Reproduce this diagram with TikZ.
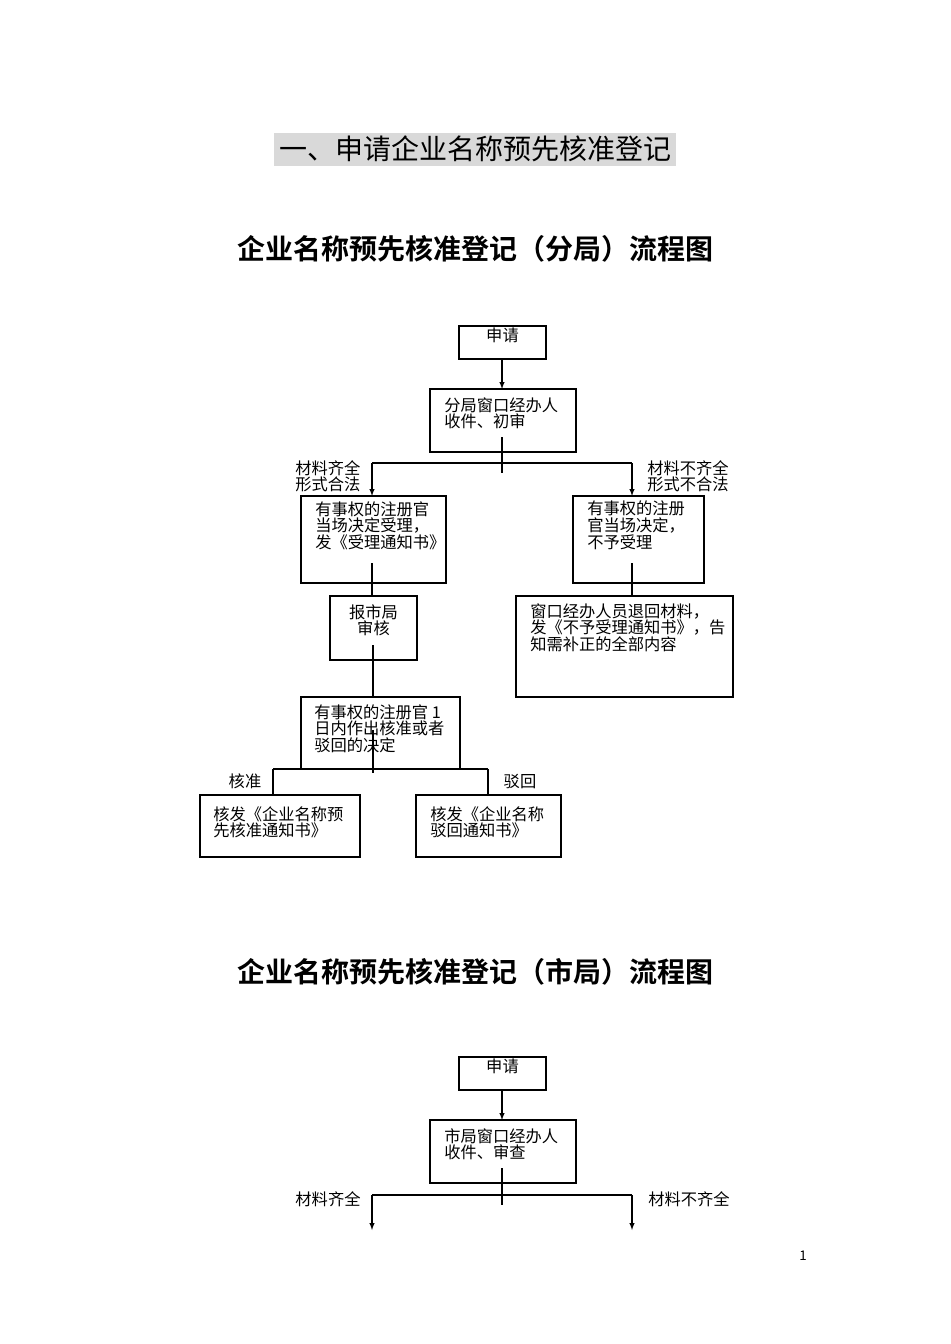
\documentclass[tikz,border=0pt]{standalone}
\usepackage{fontspec}
\setmainfont{Noto Sans CJK SC}
\newfontfamily\cjkb{Noto Sans CJK SC Bold}
\begin{document}
\begin{tikzpicture}[x=0.75pt,y=-0.75pt,
  bx/.style={draw,line width=0.8pt},
  ln/.style={line width=0.8pt},
  ar/.style={line width=0.8pt,-latex},
  tx/.style={anchor=north west,inner sep=0,align=left,font=\fontsize{12.2}{12.4}\selectfont},
  tc/.style={anchor=north,inner sep=0,align=center,font=\fontsize{12.2}{12.4}\selectfont},
  ttl/.style={inner sep=0,font=\fontsize{21}{24}\selectfont}]
\useasboundingbox (0,0) rectangle (950,1344);
\fill[white] (0,0) rectangle (950,1344);
% titles
\fill[black!15] (274,133) rectangle (676,166);
\node[ttl] (t1) at (475,149) {一、申请企业名称预先核准登记};
\node[ttl,font=\cjkb\fontsize{21}{24}\selectfont] (t2) at (475,249) {企业名称预先核准登记（分局）流程图};
\node[ttl,font=\cjkb\fontsize{21}{24}\selectfont] (t3) at (475,972) {企业名称预先核准登记（市局）流程图};
\node[inner sep=0,font=\fontsize{10}{12}\selectfont] (pg) at (803,1256) {1};
% chart 1
\draw[bx] (459,326) rectangle (546,359);
\node[tc] (a1) at (502.5,328) {申请};
\draw[bx] (430,389) rectangle (576,452);
\node[tx] (a2) at (444,397) {分局窗口经办人\\收件、初审};
\draw[ar] (502,359) -- (502,389);
\draw[ln] (502,437) -- (502,473);
\draw[ln] (372,463) -- (632,463);
\draw[ar] (372,463) -- (372,496);
\draw[ar] (632,463) -- (632,496);
\node[tx] (l1) at (295,460) {材料齐全\\形式合法};
\node[tx] (l2) at (647,460) {材料不齐全\\形式不合法};
\draw[bx] (301,496) rectangle (446,583);
\node[tx] (a3) at (315,501) {有事权的注册官\\当场决定受理，\\发《受理通知书》};
\draw[bx] (573,496) rectangle (704,583);
\node[tx] (a4) at (587,501) {有事权的注册\\官当场决定，\\不予受理};
\draw[ln] (372,563) -- (372,596);
\draw[bx] (330,596) rectangle (417,660);
\node[tc] (a5) at (373.5,604) {报市局\\审核};
\draw[ln] (373,645) -- (373,697);
\draw[bx] (301,697) rectangle (460,769);
\node[tx] (a6) at (314,704) {有事权的注册官 1\\日内作出核准或者\\驳回的决定};
\draw[ln] (373,730) -- (373,773);
\draw[ln] (273,769) -- (488,769);
\draw[ln] (273,769) -- (273,795);
\draw[ln] (488,769) -- (488,795);
\node[inner sep=0,font=\fontsize{12.2}{12.4}\selectfont] (k1) at (245,781) {核准};
\node[inner sep=0,font=\fontsize{12.2}{12.4}\selectfont] (k2) at (520,781) {驳回};
\draw[bx] (200,795) rectangle (360,857);
\node[tx] (a7) at (213,806) {核发《企业名称预\\先核准通知书》};
\draw[bx] (416,795) rectangle (561,857);
\node[tx] (a8) at (430,806) {核发《企业名称\\驳回通知书》};
\draw[ln] (632,563) -- (632,596);
\draw[bx] (516,596) rectangle (733,697);
\node[tx] (a9) at (530,603) {窗口经办人员退回材料，\\发《不予受理通知书》，告\\知需补正的全部内容};
% chart 2
\draw[bx] (459,1057) rectangle (546,1090);
\node[tc] (b1) at (502.5,1059) {申请};
\draw[bx] (430,1120) rectangle (576,1183);
\node[tx] (b2) at (444,1128) {市局窗口经办人\\收件、审查};
\draw[ar] (502,1090) -- (502,1120);
\draw[ln] (502,1168) -- (502,1205);
\draw[ln] (372,1195) -- (632,1195);
\draw[ar] (372,1195) -- (372,1230);
\draw[ar] (632,1195) -- (632,1230);
\node[inner sep=0,font=\fontsize{12.2}{12.4}\selectfont] (m1) at (328,1199) {材料齐全};
\node[inner sep=0,font=\fontsize{12.2}{12.4}\selectfont] (m2) at (689,1199) {材料不齐全};
\end{tikzpicture}
\end{document}
